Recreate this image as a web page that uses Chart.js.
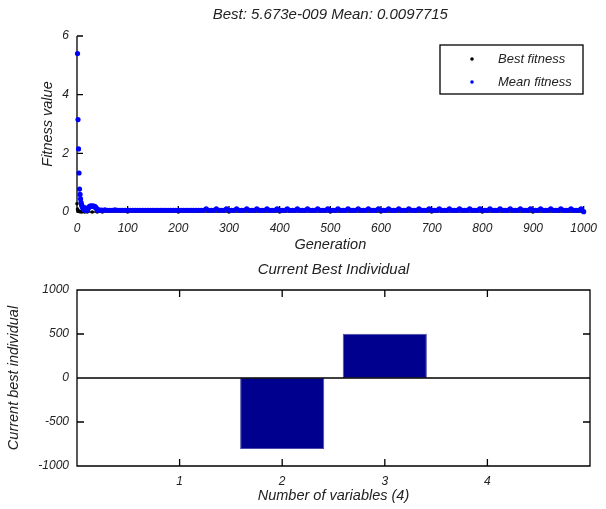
<!DOCTYPE html>
<html>
<head>
<meta charset="utf-8">
<script src="https://cdn.jsdelivr.net/npm/chart.js@4.4.1/dist/chart.umd.min.js"></script>
<style>
  html, body { margin: 0; padding: 0; background: #fff; }
  #wrap { position: relative; width: 606px; height: 509px; }
  canvas { position: absolute; left: 0; }
</style>
</head>
<body>
<div id="wrap">
  <canvas id="fitChart" width="606" height="255" style="top:0"></canvas>
  <canvas id="indChart" width="606" height="254" style="top:255px"></canvas>
</div>
<script>
// ---- data ----
var topTitle = 'Best: 5.673e-009 Mean: 0.0097715';
var bottomTitle = 'Current Best Individual';

// generations 1..50, mean fitness one by one
var earlyGen = [1, 2, 3, 4, 5, 6, 7, 8, 9, 10, 11, 12, 13, 14, 15, 16, 17, 18, 19, 20,
    21, 22, 23, 24, 25, 26, 27, 28, 29, 30, 31, 32, 33, 34, 35, 36, 37, 38, 39, 40,
    41, 42, 43, 44, 45, 46, 47, 48, 49, 50];
var earlyMean = [5.4, 3.15, 2.15, 1.33, 0.78, 0.6, 0.45, 0.33, 0.25, 0.2, 0.15, 0.12, 0.1, 0.08, 0.15, 0.07, 0.1, 0.06, 0.08, 0.06,
    0.1, 0.12, 0.15, 0.17, 0.19, 0.2, 0.19, 0.2, 0.19, 0.2, 0.19, 0.2, 0.19, 0.18, 0.19, 0.17, 0.15, 0.13, 0.11, 0.09,
    0.07, 0.06, 0.06, 0.06, 0.06, 0.06, 0.06, 0.06, 0.06, 0.06];

// generations 55..1000, every 5th generation
var lateStart = 55;
var lateStep = 5;
var lateMean = [
    0.07, 0.06, 0.06, 0.06, 0.07, 0.06, 0.06, 0.06, 0.06, 0.06, 0.06, 0.06, 0.06, 0.06, 0.06, 0.06, 0.06, 0.06, 0.06, 0.06,
    0.06, 0.06, 0.06, 0.06, 0.06, 0.06, 0.06, 0.06, 0.06, 0.06, 0.06, 0.06, 0.06, 0.06, 0.06, 0.06, 0.06, 0.06, 0.06, 0.06,
    0.11, 0.06, 0.06, 0.06, 0.11, 0.06, 0.06, 0.06, 0.11, 0.06, 0.06, 0.06, 0.11, 0.06, 0.06, 0.06, 0.11, 0.06, 0.06, 0.06,
    0.11, 0.06, 0.06, 0.06, 0.11, 0.06, 0.06, 0.06, 0.11, 0.06, 0.06, 0.06, 0.11, 0.06, 0.06, 0.06, 0.11, 0.06, 0.06, 0.06,
    0.11, 0.06, 0.06, 0.06, 0.11, 0.06, 0.06, 0.06, 0.11, 0.06, 0.06, 0.06, 0.11, 0.06, 0.06, 0.06, 0.11, 0.06, 0.06, 0.06,
    0.11, 0.06, 0.06, 0.06, 0.11, 0.06, 0.06, 0.06, 0.11, 0.06, 0.06, 0.06, 0.11, 0.06, 0.06, 0.06, 0.11, 0.06, 0.06, 0.06,
    0.11, 0.06, 0.06, 0.06, 0.11, 0.06, 0.06, 0.06, 0.11, 0.06, 0.06, 0.06, 0.11, 0.06, 0.06, 0.06, 0.11, 0.06, 0.06, 0.06,
    0.11, 0.06, 0.06, 0.06, 0.11, 0.06, 0.06, 0.06, 0.11, 0.06, 0.06, 0.06, 0.11, 0.06, 0.06, 0.06, 0.11, 0.06, 0.06, 0.06,
    0.11, 0.06, 0.06, 0.06, 0.11, 0.06, 0.06, 0.06, 0.11, 0.06, 0.06, 0.06, 0.11, 0.06, 0.06, 0.06, 0.11, 0.06, 0.06, 0.06,
    0.11, 0.06, 0.06, 0.06, 0.11, 0.06, 0.06, 0.06, 0.11, 0.01
];

var bestGen = [0, 1, 2, 3, 4, 6, 8, 10, 15, 20, 30, 40, 50, 100, 200, 300, 400, 500, 600, 700, 800, 900, 1000];
var bestFit = [0.28, 0.1, 0.05, 0.03, 0.02, 0.01, 0.01, 0.005, 0.002, 0.001, 0.0005, 0.0002, 0.0001, 0, 0, 0, 0, 0, 0, 0, 0, 0, 0];

var genTicks = [0, 100, 200, 300, 400, 500, 600, 700, 800, 900, 1000];
var fitTicks = [0, 2, 4, 6];

// bottom plot: current best individual
var varIndex = [1, 2, 3, 4];
var varValue = [0, -806, 502, 0];
var varTicks = [1, 2, 3, 4];
var indTicks = [-1000, -500, 0, 500, 1000];

Chart.defaults.font.family = '"Liberation Sans", Arial, sans-serif';
Chart.defaults.font.style = 'italic';
Chart.defaults.color = '#222';

// matlab style axes: inward ticks, optional box and zero line, title, legend
function drawAxes(chart, opts) {
    const ctx = chart.ctx;
    const a = chart.chartArea;
    const x = chart.scales.x, y = chart.scales.y;
    const len = opts.tickLen;
    ctx.save();
    ctx.strokeStyle = '#000';
    ctx.lineWidth = 1.3;
    ctx.beginPath();
    if (opts.box) {
        ctx.rect(a.left, a.top, a.right - a.left, a.bottom - a.top);
    } else {
        ctx.moveTo(a.left, a.top);
        ctx.lineTo(a.left, a.bottom);
        ctx.lineTo(a.right, a.bottom);
    }
    x.ticks.forEach(function (t) {
        const px = x.getPixelForValue(t.value);
        ctx.moveTo(px, a.bottom);
        ctx.lineTo(px, a.bottom - len);
        if (opts.box) {
            ctx.moveTo(px, a.top);
            ctx.lineTo(px, a.top + len);
        }
    });
    y.ticks.forEach(function (t) {
        const py = y.getPixelForValue(t.value);
        ctx.moveTo(a.left, py);
        ctx.lineTo(a.left + len, py);
        if (opts.box) {
            ctx.moveTo(a.right, py);
            ctx.lineTo(a.right - len, py);
        }
    });
    if (opts.zeroLine) {
        const p0 = y.getPixelForValue(0);
        ctx.moveTo(a.left, p0);
        ctx.lineTo(a.right, p0);
    }
    ctx.stroke();
    ctx.restore();
}

const matlabAxes = {
    id: 'matlabAxes',
    beforeDatasetsDraw(chart, args, opts) {
        if (opts.layer === 'below') drawAxes(chart, opts);
    },
    afterDatasetsDraw(chart, args, opts) {
        if (opts.layer !== 'below') drawAxes(chart, opts);
    },
    afterDraw(chart, args, opts) {
        const ctx = chart.ctx;
        const a = chart.chartArea;
        ctx.save();
        ctx.fillStyle = '#222';
        ctx.textAlign = 'center';
        ctx.textBaseline = 'middle';
        ctx.font = 'italic 15px "Liberation Sans", Arial, sans-serif';
        ctx.fillText(opts.title, (a.left + a.right) / 2, opts.titleY);
        if (opts.legend) {
            const L = opts.legend;
            ctx.fillStyle = '#fff';
            ctx.fillRect(L.x, L.y, L.w, L.h);
            ctx.strokeStyle = '#000';
            ctx.lineWidth = 1.3;
            ctx.strokeRect(L.x, L.y, L.w, L.h);
            ctx.font = 'italic 13px "Liberation Sans", Arial, sans-serif';
            ctx.textAlign = 'left';
            chart.data.datasets.forEach(function (ds, i) {
                const yy = L.y + 14 + i * 23;
                ctx.fillStyle = ds.backgroundColor;
                ctx.beginPath();
                ctx.arc(L.x + 32, yy, 1.8, 0, Math.PI * 2);
                ctx.fill();
                ctx.fillStyle = '#222';
                ctx.fillText(ds.label, L.x + 58, yy);
            });
        }
        ctx.restore();
    }
};

const tickFont = { size: 12, style: 'italic' };
const labelFont = { size: 14.5, style: 'italic' };
const plainTick = function (v) { return String(v); };

const meanPoints = earlyGen.map(function (g, i) { return { x: g, y: earlyMean[i] }; })
    .concat(lateMean.map(function (v, i) { return { x: lateStart + i * lateStep, y: v }; }));

new Chart(document.getElementById('fitChart'), {
    type: 'scatter',
    data: {
        datasets: [{
            label: 'Best fitness',
            data: bestGen.map(function (g, i) { return { x: g, y: bestFit[i] }; }),
            backgroundColor: '#000',
            pointRadius: 1.8,
            pointBorderWidth: 0,
            order: 1,
            clip: false
        }, {
            label: 'Mean fitness',
            data: meanPoints,
            backgroundColor: '#0000ff',
            pointRadius: 2.6,
            pointBorderWidth: 0,
            order: 0,
            clip: false
        }]
    },
    options: {
        responsive: false,
        animation: false,
        events: [],
        layout: { padding: { top: 36, right: 14, left: 0, bottom: 0 } },
        plugins: {
            legend: { display: false },
            tooltip: { enabled: false },
            matlabAxes: {
                layer: 'below', box: false, zeroLine: false, tickLen: 6,
                title: topTitle, titleY: 15,
                legend: { x: 440, y: 45, w: 143, h: 49 }
            }
        },
        scales: {
            x: {
                type: 'linear', min: 0, max: 1000,
                afterBuildTicks: function (s) { s.ticks = genTicks.map(function (v) { return { value: v }; }); },
                afterFit: function (s) { s.height = 43; },
                grid: { display: false, drawTicks: false },
                border: { display: false },
                ticks: { padding: 9, font: tickFont, color: '#222', maxRotation: 0, callback: plainTick },
                title: { display: true, text: 'Generation', font: labelFont, color: '#222', padding: { bottom: 1 } }
            },
            y: {
                type: 'linear', min: 0, max: 6,
                afterBuildTicks: function (s) { s.ticks = fitTicks.map(function (v) { return { value: v }; }); },
                afterFit: function (s) { s.width = 77; },
                grid: { display: false, drawTicks: false },
                border: { display: false },
                ticks: { padding: 8, font: tickFont, color: '#222', callback: plainTick },
                title: { display: true, text: 'Fitness value', font: labelFont, color: '#222', padding: { top: 39 } }
            }
        }
    },
    plugins: [matlabAxes]
});

new Chart(document.getElementById('indChart'), {
    type: 'bar',
    data: {
        datasets: [{
            label: 'Current best individual',
            data: varIndex.map(function (v, i) { return { x: v, y: varValue[i] }; }),
            backgroundColor: '#00008f',
            borderColor: '#4a4aa8',
            borderWidth: 1,
            borderSkipped: false,
            barPercentage: 0.82,
            categoryPercentage: 1
        }]
    },
    options: {
        responsive: false,
        animation: false,
        events: [],
        layout: { padding: { top: 35, right: 16, left: 0, bottom: 0 } },
        plugins: {
            legend: { display: false },
            tooltip: { enabled: false },
            matlabAxes: {
                layer: 'above', box: true, zeroLine: true, tickLen: 7,
                title: bottomTitle, titleY: 15
            }
        },
        scales: {
            x: {
                type: 'linear', min: 0, max: 5, offset: false,
                afterBuildTicks: function (s) { s.ticks = varTicks.map(function (v) { return { value: v }; }); },
                afterFit: function (s) { s.height = 43; },
                grid: { display: false, drawTicks: false, offset: false },
                border: { display: false },
                ticks: { padding: 8, font: tickFont, color: '#222', maxRotation: 0, callback: plainTick },
                title: { display: true, text: 'Number of variables (4)', font: labelFont, color: '#222', padding: { bottom: 4 } }
            },
            y: {
                type: 'linear', min: -1000, max: 1000,
                afterBuildTicks: function (s) { s.ticks = indTicks.map(function (v) { return { value: v }; }); },
                afterFit: function (s) { s.width = 77; },
                grid: { display: false, drawTicks: false },
                border: { display: false },
                ticks: { padding: 8, font: tickFont, color: '#222', callback: plainTick },
                title: { display: true, text: 'Current best individual', font: labelFont, color: '#222', padding: { top: 5 } }
            }
        }
    },
    plugins: [matlabAxes]
});
</script>
</body>
</html>
